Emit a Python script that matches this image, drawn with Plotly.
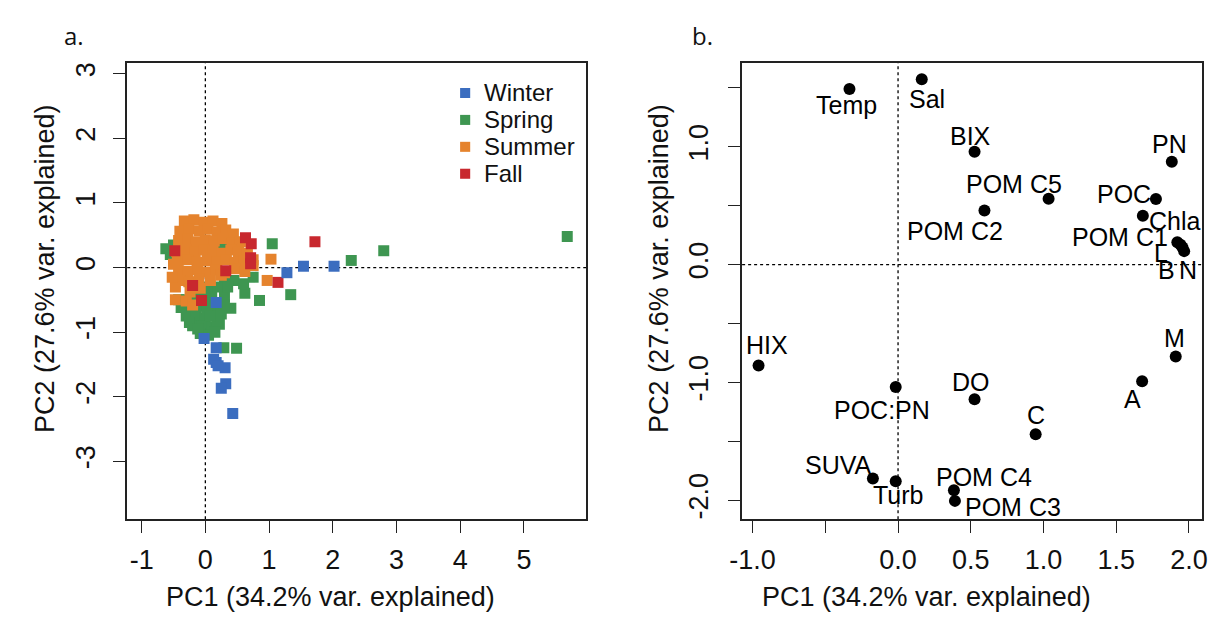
import plotly.graph_objects as go

# ---------------- Panel a: PCA scores by season ----------------
winter_x = [1.54, 2.02, 1.28, 0.17, -0.02, 0.17, 0.17, 0.13, 0.31, 0.20, 0.32, 0.25, 0.43]
winter_y = [0.02, 0.02, -0.08, -0.54, -1.10, -1.24, -1.47, -1.42, -1.55, -1.52, -1.80, -1.87, -2.26]

spring_x = [5.68, 2.80, 2.29, 1.05, 1.34, 0.85, 0.40, 0.62, 0.10, 0.49, 0.29, -0.62, -0.55, -0.50,
            -0.35, -0.20, -0.05, 0.10, 0.22, -0.30, -0.15, 0.00, 0.15, 0.25, -0.20, -0.05, 0.10, 0.22,
            -0.08, 0.05, 0.15, -0.10, 0.05, 0.20, 0.30, 0.45, 0.60, 0.75, 0.30, 0.28,
            -0.42, -0.30, -0.15, 0.00, 0.12, -0.25, 0.02, 0.30, 0.18, -0.12, 0.08, -0.38, 0.35]
spring_y = [0.48, 0.26, 0.11, 0.37, -0.42, -0.51, -0.63, -0.40, -0.43, -1.25, -1.24, 0.29, 0.20, 0.35,
            -0.62, -0.62, -0.60, -0.62, -0.60, -0.75, -0.75, -0.78, -0.75, -0.72, -0.90, -0.90, -0.92, -0.88,
            -1.02, -1.05, -1.00, -0.45, -0.30, -0.30, -0.45, -0.20, -0.25, -0.15, -0.15, 0.30,
            -0.50, -0.50, -0.50, -0.45, -0.55, -0.85, -0.65, -0.58, -0.82, -0.95, -0.75, -0.62, -0.30]

summer_x = [-0.33, -0.18, -0.02, 0.12, 0.26,
            -0.40, -0.26, -0.10, 0.04, 0.18, 0.32, 0.44,
            -0.42, -0.28, -0.14, 0.00, 0.14, 0.28, 0.42, 0.55,
            -0.45, -0.30, -0.16, -0.02, 0.12, 0.26, 0.40, 0.52, 0.66,
            -0.44, -0.28, -0.13, 0.03, 0.18, 0.33, 0.47, 0.60, 0.75,
            -0.42, -0.28, -0.12, 0.02, 0.16, 0.30, 0.46, 0.62, 1.03, 0.75, 0.97,
            -0.40, -0.26, -0.10, 0.08, 0.25,
            -0.47, -0.24, -0.08, -0.47, -0.30, -0.20, -0.50, -0.52]
summer_y = [0.72, 0.74, 0.70, 0.72, 0.68,
            0.56, 0.60, 0.57, 0.60, 0.55, 0.58, 0.52,
            0.42, 0.44, 0.40, 0.43, 0.41, 0.45, 0.38, 0.40,
            0.25, 0.28, 0.24, 0.27, 0.25, 0.22, 0.27, 0.24, 0.22,
            0.10, 0.12, 0.08, 0.11, 0.09, 0.12, 0.08, 0.10, 0.12,
            -0.05, -0.06, -0.03, -0.07, -0.04, -0.08, -0.02, -0.06, 0.13, 0.03, -0.20,
            -0.20, -0.22, -0.18, -0.20, -0.12,
            -0.30, -0.38, -0.32, -0.50, -0.52, -0.58, 0.05, -0.15]

fall_x = [1.72, 0.63, 0.72, 0.71, 0.71, 1.14, -0.06, -0.48, -0.20, 0.32]
fall_y = [0.40, 0.46, 0.37, 0.15, 0.06, -0.23, -0.51, 0.26, -0.28, -0.05]

seasons = ["Winter", "Spring", "Summer", "Fall"]
season_colors = ["#3B6DBF", "#3E9651", "#E5832D", "#C8282E"]

# ---------------- Panel b: variable loadings ----------------
var_names = ["Temp", "Sal", "BIX", "POM C5", "POM C2", "PN", "POC", "Chla", "POM C1", "L", "B", "N",
             "M", "A", "HIX", "POC:PN", "DO", "C", "SUVA", "Turb", "POM C4", "POM C3"]
load_pc1 = [-0.334, 0.163, 0.526, 1.035, 0.594, 1.882, 1.773, 1.683, 1.920, 1.942, 1.956, 1.967,
            1.909, 1.678, -0.959, -0.016, 0.526, 0.946, -0.173, -0.016, 0.384, 0.391]
load_pc2 = [1.490, 1.574, 0.958, 0.559, 0.458, 0.873, 0.557, 0.415, 0.189, 0.169, 0.144, 0.114,
            -0.780, -0.990, -0.856, -1.040, -1.144, -1.440, -1.816, -1.839, -1.915, -2.006]
# label offsets in pixels (right, down) relative to each point
label_dx = [-3, 5, -4, -35, -29, -2, -32, 32, -57, -20, -16, 4, -1, -10, 8, -14, -4, 0, -34, 2, 30, 58]
label_dy = [16, 20, -16, -15, 20, -18, -5, 5, -5, 8, 22, 19, -18, 18, -20, 23, -17, -19, -13, 14, -13, 6]

# tick labels
xa_ticks = [-1, 0, 1, 2, 3, 4, 5]
xa_text = ["-1", "0", "1", "2", "3", "4", "5"]
ya_ticks = [-3, -2, -1, 0, 1, 2, 3]
ya_text = ["-3", "-2", "-1", "0", "1", "2", "3"]
xb_ticks = [-1.0, -0.5, 0.0, 0.5, 1.0, 1.5, 2.0]
xb_text = ["-1.0", "", "0.0", "0.5", "1.0", "1.5", "2.0"]
yb_ticks = [-2.0, -1.5, -1.0, -0.5, 0.0, 0.5, 1.0, 1.5]
yb_text = ["-2.0", "", "-1.0", "", "0.0", "", "1.0", ""]

FONT = "Liberation Sans, Arial, sans-serif"

fig = go.Figure()

order = [1, 2, 3, 0]  # drawing order: Spring, Summer, Fall, Winter
data_x = [winter_x, spring_x, summer_x, fall_x]
data_y = [winter_y, spring_y, summer_y, fall_y]
for i in order:
    fig.add_trace(go.Scatter(x=data_x[i], y=data_y[i], mode="markers", name=seasons[i],
                             marker=dict(symbol="square", size=11, color=season_colors[i],
                                         line=dict(width=0)),
                             xaxis="x", yaxis="y", showlegend=False))

fig.add_trace(go.Scatter(x=load_pc1, y=load_pc2, mode="markers",
                         marker=dict(symbol="circle", size=12, color="black"),
                         xaxis="x2", yaxis="y2", showlegend=False))

for name, x, y, dx, dy in zip(var_names, load_pc1, load_pc2, label_dx, label_dy):
    fig.add_annotation(x=x, y=y, xref="x2", yref="y2", text=name, showarrow=False,
                       xshift=dx, yshift=-dy, xanchor="center", yanchor="middle",
                       font=dict(family=FONT, size=25, color="black"))

# manual legend in panel a
leg_y = [0.934, 0.875, 0.816, 0.757]
for i, s in enumerate(seasons):
    fig.add_shape(type="rect", xref="x domain", yref="y domain",
                  x0=0.725, x1=0.747, y0=leg_y[i] - 0.011, y1=leg_y[i] + 0.011,
                  fillcolor=season_colors[i], line=dict(width=0))
    fig.add_annotation(x=0.772, y=leg_y[i], xref="x domain", yref="y domain", text=s,
                       showarrow=False, xanchor="left", yanchor="middle",
                       font=dict(family=FONT, size=24, color="#111"))

# dotted reference lines
for xa, ya in [("x", "y"), ("x2", "y2")]:
    fig.add_shape(type="line", xref=xa, yref=ya + " domain", x0=0, x1=0, y0=0, y1=1,
                  line=dict(color="black", width=1.3, dash="dot"), layer="below")
    fig.add_shape(type="line", xref=xa + " domain", yref=ya, x0=0, x1=1, y0=0, y1=0,
                  line=dict(color="black", width=1.3, dash="dot"), layer="below")

axis_common = dict(showline=True, mirror=True, linecolor="#222", linewidth=1.5,
                   ticks="outside", ticklen=12, tickwidth=1.3, tickcolor="#222",
                   showgrid=False, zeroline=False,
                   tickfont=dict(family=FONT, size=27, color="#111"))

ydom = [0.1643, 0.9002]
fig.update_layout(
    width=1218, height=621, margin=dict(l=0, r=0, t=0, b=0),
    paper_bgcolor="white", plot_bgcolor="white",
    xaxis=dict(domain=[0.0952, 0.4778], range=[-1.226, 5.98], anchor="y",
               tickvals=xa_ticks, ticktext=xa_text, ticklabelstandoff=4, **axis_common),
    yaxis=dict(domain=ydom, range=[-3.895, 3.168], anchor="x", tickangle=-90,
               tickvals=ya_ticks, ticktext=ya_text, ticklabelstandoff=8, **axis_common),
    xaxis2=dict(domain=[0.6076, 0.991], range=[-1.072, 2.091], anchor="y2",
                tickvals=xb_ticks, ticktext=xb_text, ticklabelstandoff=4, **axis_common),
    yaxis2=dict(domain=ydom, range=[-2.161, 1.712], anchor="x2", tickangle=-90,
                tickvals=yb_ticks, ticktext=yb_text, ticklabelstandoff=10, **axis_common),
)

# axis titles and panel letters
title_font = dict(family=FONT, size=27, color="#111")
def note(px, py, text, font, angle=0):
    fig.add_annotation(x=px / 1218, y=1 - py / 621, xref="paper", yref="paper",
                       xanchor="center", yanchor="middle", textangle=angle,
                       text=text, showarrow=False, font=font)

note(322, 597, "PC1 (34.2% var. explained)", title_font)
note(927, 597, "PC1 (34.2% var. explained)", title_font)
note(32, 268, "PC2 (27.6% var. explained)", title_font, -90)
note(655, 268, "PC2 (27.6% var. explained)", title_font, -90)
letter_font = dict(family="Open Sans, sans-serif", size=24, color="#111")
note(62, 35, "a.", letter_font)
note(700, 35, "b.", letter_font)

fig.write_html("out.html")
